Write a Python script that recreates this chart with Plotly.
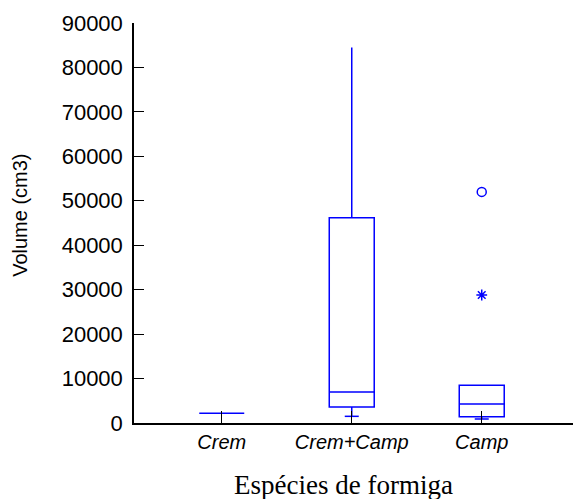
import plotly.graph_objects as go

categories = ["Crem", "Crem+Camp", "Camp"]
q1 = [2200, 3600, 1400]
median = [2200, 7000, 4300]
q3 = [2200, 46200, 8500]
lower_fence = [2200, 1500, 900]
upper_fence = [2200, 84500, 8500]

min_cats = ["Crem+Camp", "Camp"]
min_vals = [1500, 900]

outlier_cats = ["Camp"]
outlier_vals = [52000]
far_cats = ["Camp"]
far_vals = [28800]

y_ticks = list(range(0, 90001, 10000))

BLUE = "#0000FF"

fig = go.Figure()
fig.add_trace(go.Box(
    x=categories, q1=q1, median=median, q3=q3,
    lowerfence=lower_fence, upperfence=upper_fence,
    width=0.346, whiskerwidth=0,
    line=dict(color=BLUE, width=1.5),
    fillcolor="rgba(0,0,0,0)",
    boxpoints=False, showlegend=False, hoverinfo="skip",
))
fig.add_trace(go.Scatter(
    x=min_cats, y=min_vals, mode="markers",
    marker=dict(symbol="line-ew-open", size=10, color=BLUE, line=dict(color=BLUE, width=1.5)),
    showlegend=False, hoverinfo="skip",
))
fig.add_trace(go.Scatter(
    x=outlier_cats, y=outlier_vals, mode="markers",
    marker=dict(symbol="circle-open", size=9, color=BLUE, line=dict(color=BLUE, width=1.5)),
    showlegend=False, hoverinfo="skip",
))
fig.add_trace(go.Scatter(
    x=far_cats, y=far_vals, mode="markers",
    marker=dict(symbol="asterisk-open", size=9, color=BLUE, line=dict(color=BLUE, width=1.5)),
    showlegend=False, hoverinfo="skip",
))

fig.update_layout(
    width=574, height=499,
    margin=dict(l=134, r=1, t=23, b=76, autoexpand=False),
    paper_bgcolor="white", plot_bgcolor="white",
    showlegend=False,
    annotations=[
        dict(text="Espécies de formiga", xref="paper", yref="paper",
             x=0.478, y=-0.155, xanchor="center", yanchor="middle",
             showarrow=False,
             font=dict(family="Liberation Serif", size=27, color="black")),
        dict(text="Volume (cm3)", xref="paper", yref="paper",
             x=-0.26, y=0.52, xanchor="center", yanchor="middle",
             textangle=-90, showarrow=False,
             font=dict(family="Liberation Sans", size=20, color="black")),
    ],
)
fig.update_xaxes(
    type="category", categoryorder="array", categoryarray=categories,
    range=[-0.675, 2.702],
    showline=True, linecolor="black", linewidth=1.5,
    ticks="inside", ticklen=12, tickcolor="black", tickwidth=1,
    showgrid=False, zeroline=False,
    tickfont=dict(family="Liberation Sans", size=20, color="black", style="italic"),
    ticklabelstandoff=0,
    automargin=False,
)
fig.update_yaxes(
    range=[0, 90000], tickvals=y_ticks, tickformat="d",
    showline=True, linecolor="black", linewidth=1.5,
    ticks="inside", ticklen=10, tickcolor="black", tickwidth=1,
    showgrid=False, zeroline=False,
    tickfont=dict(family="Liberation Sans", size=22, color="black"),
    ticklabelstandoff=5,
    automargin=False,
)

fig.write_html("out.html")
